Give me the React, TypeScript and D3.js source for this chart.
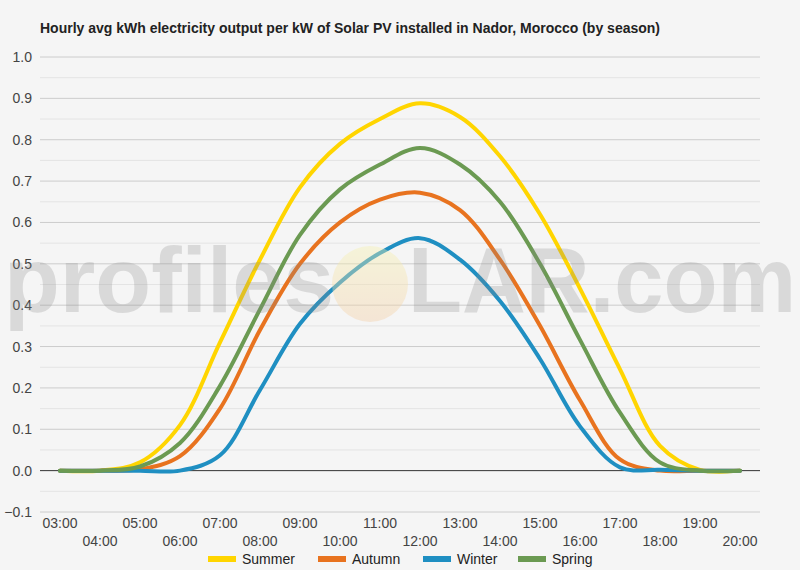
import React from 'react';
import * as d3 from 'd3';

const title = 'Hourly avg kWh electricity output per kW of Solar PV installed in Nador, Morocco (by season)';

const hours = ['03:00', '04:00', '05:00', '06:00', '07:00', '08:00', '09:00', '10:00', '11:00',
  '12:00', '13:00', '14:00', '15:00', '16:00', '17:00', '18:00', '19:00', '20:00'];

const summer = [0, 0, 0.02, 0.11, 0.31, 0.51, 0.685, 0.79, 0.85, 0.888, 0.855, 0.76, 0.62, 0.44, 0.245, 0.06, 0.002, 0];
const autumn = [0, 0, 0.003, 0.035, 0.15, 0.34, 0.5, 0.6, 0.655, 0.672, 0.63, 0.51, 0.35, 0.17, 0.027, 0, 0, 0];
const winter = [0, 0, 0, 0, 0.037, 0.195, 0.355, 0.455, 0.526, 0.562, 0.51, 0.41, 0.27, 0.107, 0.008, 0.002, 0, 0];
const spring = [0, 0, 0.01, 0.067, 0.205, 0.39, 0.57, 0.68, 0.74, 0.78, 0.74, 0.65, 0.5, 0.316, 0.14, 0.02, 0, 0];

const seasonNames = ['Summer', 'Autumn', 'Winter', 'Spring'];
const seasonColors = ['#ffd500', '#e8731f', '#1f8fc2', '#6b9a52'];
const seasonValues = [summer, autumn, winter, spring];

const yTicks = [-0.1, 0, 0.1, 0.2, 0.3, 0.4, 0.5, 0.6, 0.7, 0.8, 0.9, 1.0];

const W = 800;
const H = 570;
const font = '"Liberation Sans", Arial, sans-serif';

export default function App() {
  const x = d3.scalePoint<string>().domain(hours).range([40, 760]).padding(0.5);
  const y = d3.scaleLinear().domain([-0.1, 1.0]).range([512, 57]);

  const line = d3.line<number>()
    .x((_, i) => x(hours[i]) as number)
    .y(d => y(d))
    .curve(d3.curveCatmullRom);

  const minorTicks = yTicks.slice(0, -1).map(t => t + 0.05);

  // legend positions (swatch left edges)
  const legendX = [208, 318, 423, 518];

  return (
    <div style={{ position: 'absolute', left: 0, top: 0 }}>
      <svg width={W} height={H} style={{ display: 'block', fontFamily: font }}>
        <defs>
          <linearGradient id="sun" x1="0" y1="0" x2="0" y2="1">
            <stop offset="0%" stopColor="#f6f3b0" />
            <stop offset="100%" stopColor="#f4cfa6" />
          </linearGradient>
        </defs>
        <rect width={W} height={H} fill="#f5f5f5" />

        <text x={40} y={33} fontSize={14} fontWeight="bold" fill="#222">{title}</text>

        {minorTicks.map(t => (
          <line key={'m' + t} x1={40} x2={760} y1={y(t)} y2={y(t)} stroke="#e4e4e4" strokeWidth={1} />
        ))}
        {yTicks.map(t => (
          <line key={'g' + t} x1={40} x2={760} y1={y(t)} y2={y(t)}
            stroke={t === 0 ? '#333' : '#cccccc'} strokeWidth={1} />
        ))}
        {yTicks.map(t => (
          <text key={'yl' + t} x={32} y={y(t) + 5} textAnchor="end" fontSize={14} fill="#444">
            {d3.format('.1f')(t)}
          </text>
        ))}

        {hours.map((h, i) => (
          <text key={h} x={x(h)} y={i % 2 === 0 ? 528 : 546} textAnchor="middle" fontSize={14} fill="#444">
            {h}
          </text>
        ))}

        {seasonValues.map((vals, k) => (
          <path key={seasonNames[k]} d={line(vals) || ''} fill="none"
            stroke={seasonColors[k]} strokeWidth={4} strokeLinejoin="round" strokeLinecap="round" />
        ))}

        {/* watermark */}
        <g opacity={0.5}>
          <circle cx={370} cy={284} r={38} fill="url(#sun)" opacity={0.8} />
        </g>
        <g fill="#8a8a8a" opacity={0.25} fontSize={92} fontWeight="bold">
          <text x={4} y={312} textLength={330} lengthAdjust="spacingAndGlyphs">profiles</text>
          <text x={408} y={312} textLength={388} lengthAdjust="spacingAndGlyphs">LAR.com</text>
        </g>

        {seasonNames.map((name, k) => (
          <g key={'lg' + name} transform={`translate(${legendX[k]},559)`}>
            <rect x={0} y={-3} width={28} height={6} fill={seasonColors[k]} />
            <text x={34} y={5} fontSize={14} fill="#222">{name}</text>
          </g>
        ))}
      </svg>
    </div>
  );
}
